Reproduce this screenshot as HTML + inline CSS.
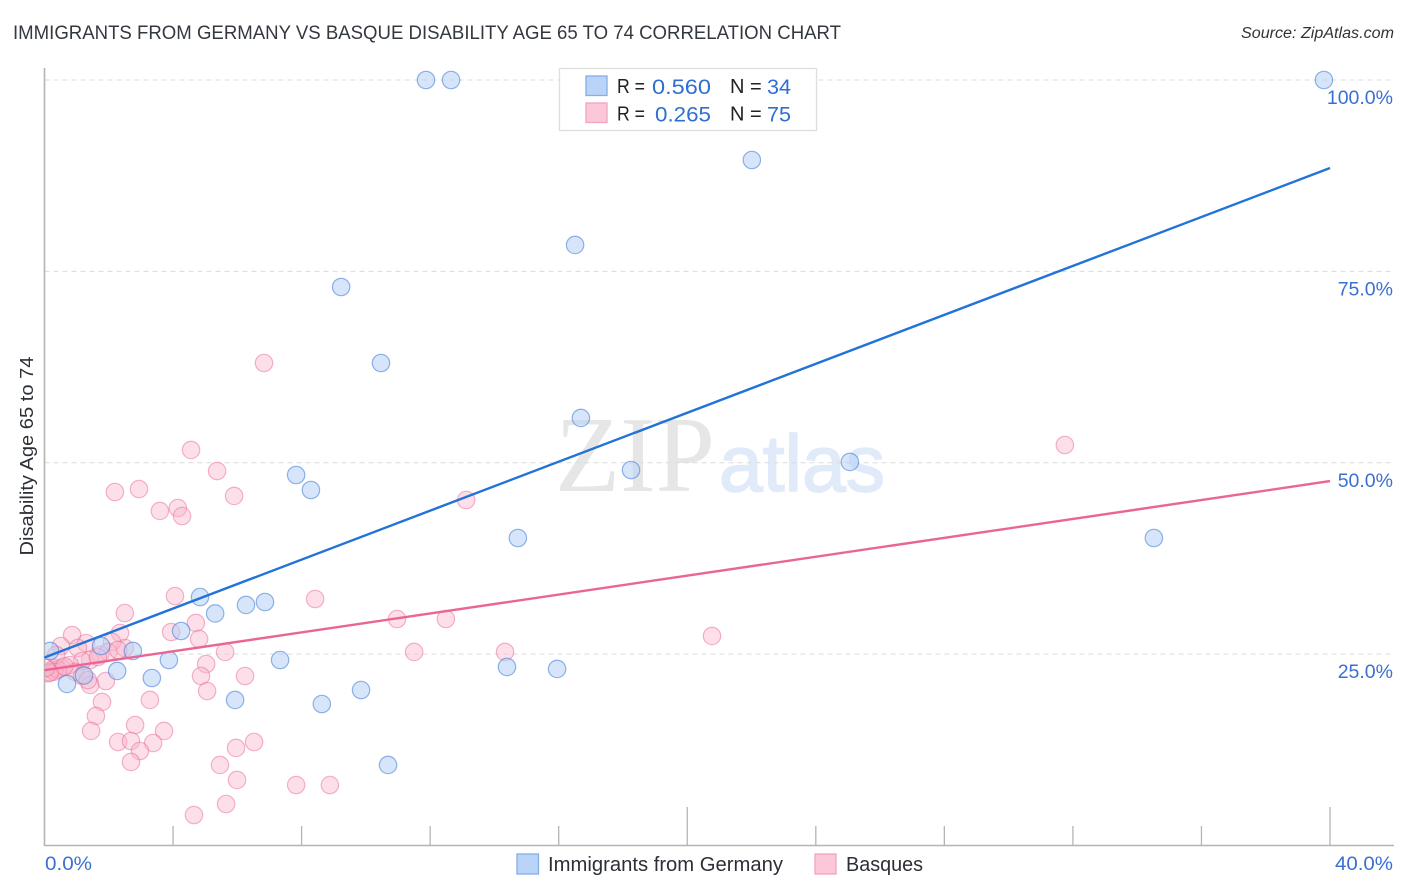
<!DOCTYPE html>
<html lang="en">
<head>
<meta charset="utf-8">
<title>Immigrants from Germany vs Basque Disability Age 65 to 74 Correlation Chart</title>
<style>
html,body{margin:0;padding:0;background:#fff;width:1406px;height:892px;overflow:hidden}
svg{display:block;font-family:"Liberation Sans",sans-serif}
</style>
</head>
<body>
<svg id="chart" xmlns="http://www.w3.org/2000/svg" width="1406" height="892" viewBox="0 0 1406 892">
  <defs>
    <clipPath id="plot-clip"><rect x="45" y="60" width="1361" height="786"/></clipPath>
  </defs>
  <text x="13" y="39" font-size="19" fill="#33383f" textLength="828" lengthAdjust="spacingAndGlyphs">IMMIGRANTS FROM GERMANY VS BASQUE DISABILITY AGE 65 TO 74 CORRELATION CHART</text>
  <text x="1394" y="38" font-size="15.5" font-style="italic" fill="#333" text-anchor="end" textLength="153" lengthAdjust="spacingAndGlyphs">Source: ZipAtlas.com</text>
  <g>
    <text x="555" y="491" font-family="'Liberation Serif',serif" font-size="108" fill="#e6e6e6" textLength="160" lengthAdjust="spacingAndGlyphs">ZIP</text>
    <text x="719" y="491" font-size="80" fill="#e0eaf8" stroke="#e0eaf8" stroke-width="1.6" textLength="166" lengthAdjust="spacingAndGlyphs">atlas</text>
  </g>
  <g id="grid"></g>
  <g id="axes"></g>
  <g id="pink-points" clip-path="url(#plot-clip)"></g>
  <g id="blue-points" clip-path="url(#plot-clip)"></g>
  <g id="trends"></g>
  <g id="labels"></g>
  <text transform="translate(33,456) rotate(-90)" font-size="18.5" fill="#2b2f36" text-anchor="middle" textLength="199" lengthAdjust="spacingAndGlyphs">Disability Age 65 to 74</text>

  <g>
    <rect x="559.5" y="68.5" width="257" height="62" fill="#fff" stroke="#dedede" stroke-width="1.3"/>
    <rect x="586" y="76" width="21" height="19.5" fill="#b9d4f8" stroke="#85aee3" stroke-width="1.3"/>
    <rect x="586" y="103" width="21" height="19.5" fill="#fcc8d9" stroke="#f0a4bf" stroke-width="1.3"/>
    <g font-size="20" fill="#222">
      <text x="617" y="93" textLength="28" lengthAdjust="spacingAndGlyphs">R =</text>
      <text x="730" y="93">N =</text>
      <text x="617" y="120.5" textLength="28" lengthAdjust="spacingAndGlyphs">R =</text>
      <text x="730" y="120.5">N =</text>
    </g>
    <g font-size="21.5" fill="#2f6fd0">
      <text x="652" y="94" textLength="59" lengthAdjust="spacingAndGlyphs">0.560</text>
      <text x="767" y="94" textLength="24" lengthAdjust="spacingAndGlyphs">34</text>
      <text x="655" y="121.5" textLength="56" lengthAdjust="spacingAndGlyphs">0.265</text>
      <text x="767" y="121.5" textLength="24" lengthAdjust="spacingAndGlyphs">75</text>
    </g>
  </g>

  <g>
    <g>
      <rect x="517" y="854" width="21.5" height="20" fill="#b9d4f8" stroke="#85aee3" stroke-width="1.3"/>
      <text x="548" y="871" font-size="20" fill="#2b2f36" textLength="235" lengthAdjust="spacingAndGlyphs">Immigrants from Germany</text>
    </g>
    <g>
      <rect x="815" y="854" width="21" height="20" fill="#fcc8d9" stroke="#f0a4bf" stroke-width="1.3"/>
      <text x="846" y="871" font-size="20" fill="#2b2f36" textLength="77" lengthAdjust="spacingAndGlyphs">Basques</text>
    </g>
  </g>
</svg>
<script>
const yTickValues = [25, 50, 75, 100];
const yTickLabels = ["25.0%", "50.0%", "75.0%", "100.0%"];
const xTickValues = [4, 8, 12, 16, 20, 24, 28, 32, 36, 40];
const xMajorTicks = [20, 40];
const xEndValues = [0, 40];
const xEndLabels = ["0.0%", "40.0%"];

const germanyX = [11.87,12.65,39.81,22.01,16.51,9.23,10.47,16.69,18.25,25.06,7.83,8.29,14.73,34.52,4.84,6.27,6.86,5.31,4.25,2.75,1.76,3.87,7.33,2.26,3.34,1.23,0.70,5.93,8.63,9.85,10.69,14.39,15.95,0.17];
const germanyY = [100,100,100,89.55,78.45,72.96,63.03,55.85,49.05,50.1,48.4,46.44,40.17,40.17,32.46,31.42,31.81,30.31,28.02,25.41,26.06,24.23,24.23,22.8,21.88,22.21,21.1,19.01,18.48,20.31,10.52,23.32,23.06,25.41];

const basquesX = [4.06,8.42,2.50,4.71,2.35,3.94,4.81,0.86,0.51,1.29,5.62,5.03,4.87,6.24,5.06,1.91,3.28,1.79,1.60,1.45,2.82,3.72,2.29,2.69,3.38,2.97,2.69,5.96,6.52,5.46,5.99,7.83,8.88,5.65,4.65,6.83,4.56,5.37,2.19,2.94,5.9,3.59,4.15,4.28,13.12,31.75,10.97,12.49,20.77,14.33,11.5,2.5,2.1,1.73,1.98,2.29,1.04,1.42,1.17,0.79,0.54,0.23,0.11,0.33,0.30,0.42,0.17,0.05,0.36,0.95,1.17,1.42,1.35,1.66,0.62];
const basquesY = [32.59,32.2,30.37,29.07,27.76,27.89,26.98,27.5,26.06,26.45,25.28,23.71,22.14,22.14,20.18,21.49,19.01,18.75,16.92,14.96,15.74,14.96,13.52,13.65,13.39,12.34,10.91,12.74,13.52,10.52,8.56,7.9,7.9,5.42,3.98,63.03,51.67,48.92,46.18,46.57,45.66,43.7,44.09,43.04,45.13,52.32,29.59,29.59,27.37,25.28,25.28,25.8,26.58,24.89,25.28,25.54,25.8,24.23,24.1,23.58,23.19,22.93,22.5,23.19,22.7,23.0,22.6,23.2,24.89,22.67,22.14,20.97,21.62,24.62,23.4];

const germanyTrend = [24.56, 88.5];
const basquesTrend = [22.9, 47.6];
const trendX = [0, 40];

const NS = "http://www.w3.org/2000/svg";
const xScale = v => 44.5 + v * 32.1375;
const yScale = v => 845.5 - v * 7.655;

function make(parent, tag, attrs) {
  const el = document.createElementNS(NS, tag);
  for (const k in attrs) el.setAttribute(k, attrs[k]);
  document.getElementById(parent).appendChild(el);
  return el;
}

yTickValues.forEach((v, i) => {
  const line = make("grid", "line", {x1: 44.5, x2: 1394, y1: yScale(v), y2: yScale(v), stroke: "#dcdcdc", "stroke-width": 1, "stroke-dasharray": "5 4"});
  
  
  const label = make("labels", "text", {x: 1393, y: yScale(v) + 24, "font-size": 19.5, fill: "#3a70d2", "text-anchor": "end"});
  label.textContent = yTickLabels[i];
  
  
});

const yAxis = make("axes", "line", {x1: 44.5, x2: 44.5, y1: 68, y2: 846, stroke: "#b4b4b4", "stroke-width": 1.6});


const xAxis = make("axes", "line", {x1: 44, x2: 1394, y1: 845.5, y2: 845.5, stroke: "#b4b4b4", "stroke-width": 1.6});



xTickValues.forEach(v => {
  const top = xMajorTicks.includes(v) ? 807 : 826;
  const tick = make("axes", "line", {x1: xScale(v), x2: xScale(v), y1: top, y2: 845.5, stroke: "#b4b4b4", "stroke-width": 1.3});
  
  
});

xEndValues.forEach((v, i) => {
  const label = make("labels", "text", {x: i === 0 ? xScale(v) + 0.5 : 1393, y: 870, "font-size": 19.5, fill: "#3a70d2", "text-anchor": i === 0 ? "start" : "end", textLength: i === 0 ? 47 : 58, lengthAdjust: "spacingAndGlyphs"});
  label.textContent = xEndLabels[i];
  
  
});

basquesX.forEach((v, i) => {
  const c = make("pink-points", "circle", {cx: xScale(v), cy: yScale(basquesY[i]), r: 8.7, fill: "#f8b8cd", "fill-opacity": 0.45, stroke: "#ea6c98", "stroke-opacity": 0.5, "stroke-width": 1.2});
  
  
});

germanyX.forEach((v, i) => {
  const c = make("blue-points", "circle", {cx: xScale(v), cy: yScale(germanyY[i]), r: 8.7, fill: "#b4d0f5", "fill-opacity": 0.55, stroke: "#3a78d6", "stroke-opacity": 0.55, "stroke-width": 1.2});
  
  
});

const germanyLine = make("trends", "line", {x1: xScale(trendX[0]), y1: yScale(germanyTrend[0]), x2: xScale(trendX[1]), y2: yScale(germanyTrend[1]), stroke: "#2272d9", "stroke-width": 2.4});


const basquesLine = make("trends", "line", {x1: xScale(trendX[0]), y1: yScale(basquesTrend[0]), x2: xScale(trendX[1]), y2: yScale(basquesTrend[1]), stroke: "#ea6594", "stroke-width": 2.4});


</script>
</body>
</html>
